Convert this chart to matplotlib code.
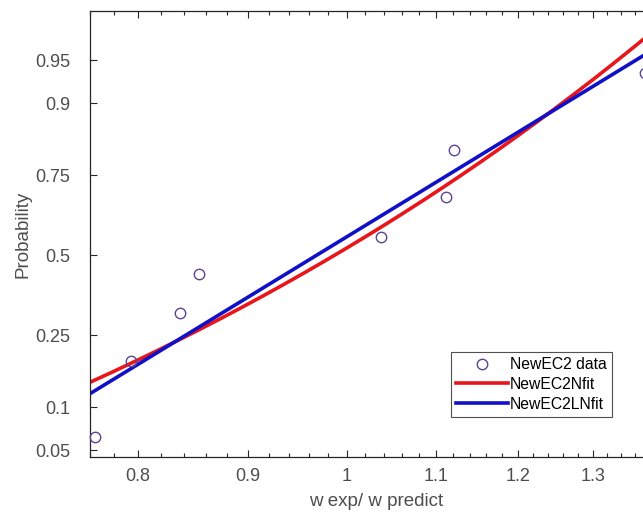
import numpy as np
import matplotlib
matplotlib.use('Agg')
import matplotlib.pyplot as plt
from matplotlib.ticker import FixedLocator, NullFormatter
from statistics import NormalDist

# data
w_ratio = [0.764, 0.794, 0.8365, 0.854, 1.037, 1.112, 1.121, 1.375]
prob = [0.0625, 0.1875, 0.3125, 0.4375, 0.5625, 0.6875, 0.8125, 0.9375]

x_ticks = [0.8, 0.9, 1.0, 1.1, 1.2, 1.3]
x_tick_labels = ['0.8', '0.9', '1', '1.1', '1.2', '1.3']
x_minor = [0.76, 0.78, 0.82, 0.84, 0.86, 0.88, 0.92, 0.94, 0.96, 0.98,
           1.02, 1.04, 1.06, 1.08, 1.12, 1.14, 1.16, 1.18,
           1.22, 1.24, 1.26, 1.28, 1.32, 1.34, 1.36, 1.38]
y_ticks = [0.05, 0.1, 0.25, 0.5, 0.75, 0.9, 0.95]
y_tick_labels = ['0.05', '0.1', '0.25', '0.5', '0.75', '0.9', '0.95']

nd = NormalDist()
x = np.array(w_ratio)
z = np.array([nd.inv_cdf(p) for p in prob])

# normal fit and lognormal fit of the data
mu_n, sd_n = x.mean(), x.std(ddof=1)
lx = np.log(x)
mu_ln, sd_ln = lx.mean(), lx.std(ddof=1)

xs = np.exp(np.linspace(np.log(0.76), np.log(1.40), 300))
z_nfit = (xs - mu_n) / sd_n
z_lnfit = (np.log(xs) - mu_ln) / sd_ln

plt.rcParams['font.family'] = ['Liberation Sans', 'DejaVu Sans']
fig = plt.figure(figsize=(6.43, 5.18), dpi=100)
W, H = 643, 518
ax = fig.add_axes([90 / W, (H - 457) / H, (662 - 90) / W, (457 - 11) / H])

ax.plot(x, z, 'o', mfc='none', mec='#5b4590', ms=7.5, mew=1.0, label='NewEC2 data',
        clip_on=False, zorder=3)
ax.plot(xs, z_nfit, color='#e8161b', lw=2.6, label='NewEC2Nfit')
ax.plot(xs, z_lnfit, color='#1010c8', lw=2.6, label='NewEC2LNfit')

ax.set_xscale('log')
ax.set_xlim(0.76, 1.40)
ax.set_ylim(-1.70, 2.06)

ax.xaxis.set_major_locator(FixedLocator(x_ticks))
ax.set_xticklabels(x_tick_labels)
ax.xaxis.set_minor_locator(FixedLocator(x_minor))
ax.xaxis.set_minor_formatter(NullFormatter())
ax.set_yticks([nd.inv_cdf(p) for p in y_ticks])
ax.set_yticklabels(y_tick_labels)
ax.yaxis.set_minor_locator(FixedLocator([]))

ax.tick_params(which='both', direction='in', top=True, right=True, colors='#262626',
               labelcolor='#4d4d4d', labelsize=13, width=0.8)
ax.tick_params(which='major', length=5)
ax.tick_params(axis='x', which='major', pad=8)
ax.tick_params(axis='y', which='major', pad=14)
ax.tick_params(which='minor', length=3)
for s in ax.spines.values():
    s.set_color('#262626')
    s.set_linewidth(0.9)

ax.set_xlabel('w exp/ w predict', fontsize=13.5, color='#4d4d4d', labelpad=6)
ax.set_ylabel('Probability', fontsize=13.5, color='#4d4d4d', labelpad=3)

leg = ax.legend(loc='upper left', bbox_to_anchor=((450.7 - 90) / (662 - 90), (457 - 351.7) / (457 - 11)),
                fontsize=11.3, frameon=True, fancybox=False, edgecolor='#262626',
                handlelength=3.3, handletextpad=0.1, borderpad=0.35, labelspacing=0.3,
                borderaxespad=0)
leg.get_frame().set_linewidth(0.8)

fig.savefig('out.png', dpi=100)
